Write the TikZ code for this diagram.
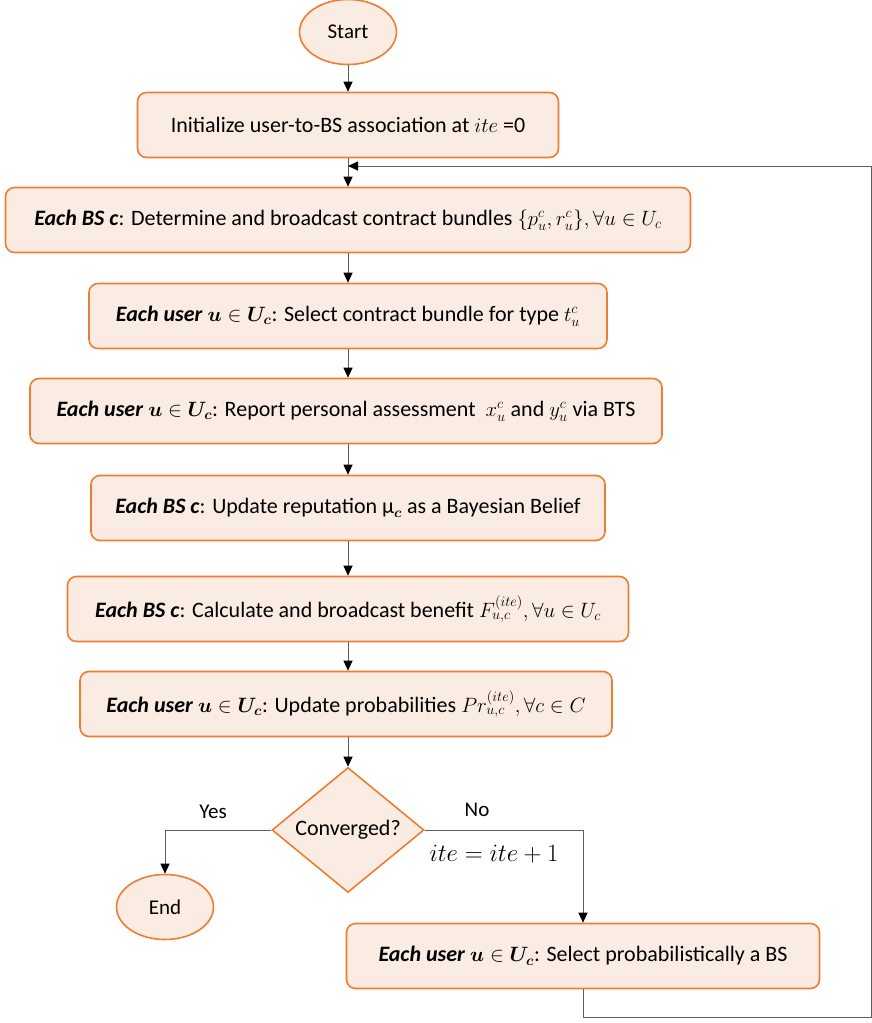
\documentclass[tikz,border=0pt]{standalone}
\usepackage{amsmath}
\usepackage{amssymb}
\usepackage{fontspec}
\setmainfont{Carlito}
\usetikzlibrary{shapes.geometric,arrows.meta}
\definecolor{boxorange}{HTML}{ED7D31}
\definecolor{boxfill}{HTML}{FBECE3}
\definecolor{linegray}{HTML}{5F5F5F}
\tikzset{
  procbox/.style={draw=boxorange,fill=boxfill,line width=1.6pt,rounded corners=9pt,
    minimum height=65pt,inner sep=0pt,font=\fontsize{22}{26}\selectfont},
  termnode/.style={ellipse,draw=boxorange,fill=boxfill,line width=1.6pt,
    minimum width=97pt,minimum height=65pt,inner sep=0pt,font=\fontsize{21}{25}\selectfont},
  decnode/.style={diamond,draw=boxorange,fill=boxfill,line width=1.6pt,
    minimum width=152pt,minimum height=125pt,inner sep=0pt,font=\fontsize{22}{26}\selectfont},
  flowline/.style={draw=linegray,line width=1pt,-{Triangle[length=10pt,width=9pt,color=black]}},
  flowlabel/.style={font=\fontsize{21}{25}\selectfont}
}
\newcommand{\bsc}{\textbf{\textit{Each BS c}}}
\newcommand{\usr}{\textbf{\textit{Each user}} $\boldsymbol{u}\in\boldsymbol{U_c}$}
\begin{document}
\begin{tikzpicture}[x=1pt,y=-1pt]
\useasboundingbox (0,0) rectangle (872,1023);
% main column
\node[termnode] (start) at (348,32) {Start};
\node[procbox,minimum width=421pt] (init) at (348,125) {Initialize user-to-BS association at $ite$~=0};
\node[procbox,minimum width=685pt] (contract) at (348,220) {\bsc: Determine and broadcast contract bundles $\{p_u^c,r_u^c\},\forall u\in U_c$};
\node[procbox,minimum width=518pt] (choose) at (348,316) {\usr: Select contract bundle for type $t_u^c$};
\node[procbox,minimum width=632pt] (report) at (346,411) {\usr: Report personal assessment~ $x_u^c$ and $y_u^c$ via BTS};
\node[procbox,minimum width=514pt] (reput) at (348,508) {\bsc: Update reputation μ$_{\boldsymbol{c}}$ as a Bayesian Belief};
\node[procbox,minimum width=561pt] (benefit) at (348,609) {\bsc: Calculate and broadcast benefit $F_{u,c}^{(ite)},\forall u\in U_c$};
\node[procbox,minimum width=532pt] (prob) at (346,704) {\usr: Update probabilities $Pr_{u,c}^{(ite)},\forall c\in C$};
\node[decnode] (conv) at (348,830) {Converged?};
\node[termnode] (end) at (165,907) {End};
\node[procbox,minimum width=473pt] (select) at (583,956) {\usr: Select probabilistically a BS};
% labels
\node[flowlabel] (yes) at (213,812) {Yes};
\node[flowlabel] (no) at (477,810) {No};
\node[flowlabel,font=\fontsize{24}{28}\selectfont] (incr) at (494,854) {$ite=ite+1$};
% connectors
\coordinate (loopin) at (348,166);
\coordinate (loopcorner) at (871,1017);
\draw[flowline] (start) -- (init);
\draw[flowline] (init) -- (contract);
\draw[flowline] (contract) -- (choose);
\draw[flowline] (choose) -- (report.north -| choose);
\draw[flowline] (report.south -| reput) -- (reput);
\draw[flowline] (reput) -- (benefit);
\draw[flowline] (benefit) -- (prob.north -| benefit);
\draw[flowline] (prob.south -| conv) -- (conv);
\draw[flowline] (conv.west) -| (end);
\draw[flowline] (conv.east) -| (select);
\draw[flowline] (select.south) |- (loopcorner) |- (loopin);
\end{tikzpicture}
\end{document}
